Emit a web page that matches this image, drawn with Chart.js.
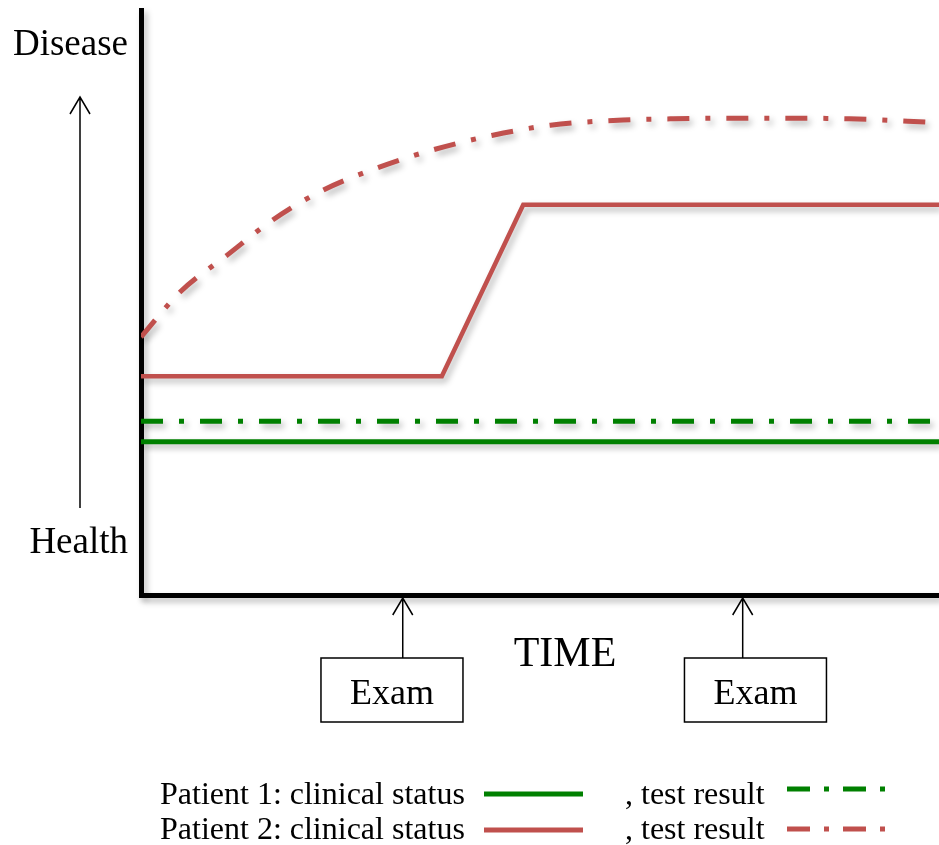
<!DOCTYPE html>
<html>
<head>
<meta charset="utf-8">
<script src="https://cdn.jsdelivr.net/npm/chart.js@4"></script>
<style>
  body { margin: 0; background: #fff; }
  #wrap { width: 939px; height: 845px; }
</style>
</head>
<body>
<div id="wrap"><canvas id="diseaseChart" width="939" height="845"></canvas></div>
<script>
// time runs 0..100 along the axis, status 0 (health) .. 100 (disease)
const p1StatusX = [0, 100];
const p1StatusY = [26.2, 26.2];
const p1TestX = [0, 100];
const p1TestY = [29.7, 29.7];
const p2StatusX = [0, 37.7, 47.9, 100];
const p2StatusY = [37.4, 37.4, 66.7, 66.7];
const p2TestX = [0, 4.9, 10.8, 16.5, 22.8, 29.6, 36.6, 44.1, 51.3, 60.4, 66.7, 74.2, 81.6, 88.8, 96.1, 100];
const p2TestY = [44.1, 51.8, 58.1, 64.1, 69.2, 73.0, 76.1, 78.6, 80.3, 81.2, 81.4, 81.5, 81.5, 81.4, 81.0, 80.7];
const examTimes = [32.8, 75.4];
const examBoxTimes = [31.45, 77.0];
const examLabel = 'Exam';
const axisLabels = { top: 'Disease', bottom: 'Health', x: 'TIME' };
const legendRows = ['Patient 1: clinical status', 'Patient 2: clinical status'];
const legendTest = ', test result';

const GREEN = '#008000';
const RED = '#C0504D';
const DASH_DOT = [22, 16, 5, 16];
const SERIF = '"Liberation Serif", "Times New Roman", serif';

function toPoints(xs, ys) {
    return xs.map((x, i) => ({ x: x, y: ys[i] }));
}

// Drop shadow under everything, like the original drawing
const shadowPlugin = {
    id: 'shadow',
    beforeDraw(chart) {
        const ctx = chart.ctx;
        ctx.save();
        ctx.shadowColor = 'rgba(0,0,0,0.28)';
        ctx.shadowBlur = 6;
        ctx.shadowOffsetX = 3;
        ctx.shadowOffsetY = 4;
    },
    afterDraw(chart) {
        chart.ctx.restore();
    }
};

function arrowUp(ctx, x, yTip, yEnd) {
    ctx.beginPath();
    ctx.moveTo(x, yEnd);
    ctx.lineTo(x, yTip);
    ctx.moveTo(x - 10, yTip + 17);
    ctx.lineTo(x, yTip);
    ctx.lineTo(x + 10, yTip + 17);
    ctx.stroke();
}

// Labels, exam boxes and the legend
const annotatePlugin = {
    id: 'annotate',
    afterDraw(chart) {
        const ctx = chart.ctx;
        const xs = chart.scales.x;
        const area = chart.chartArea;
        ctx.fillStyle = '#000';
        ctx.strokeStyle = '#000';
        ctx.lineWidth = 1.5;

        ctx.font = '37px ' + SERIF;
        ctx.textAlign = 'right';
        ctx.textBaseline = 'alphabetic';
        ctx.fillText(axisLabels.top, 128, 55);
        ctx.fillText(axisLabels.bottom, 128, 553);
        arrowUp(ctx, 80, 97, 508);

        ctx.font = '42px ' + SERIF;
        ctx.textAlign = 'center';
        ctx.fillText(axisLabels.x, 565, 666);

        examTimes.forEach((t, i) => {
            const px = xs.getPixelForValue(t);
            const bx = xs.getPixelForValue(examBoxTimes[i]);
            arrowUp(ctx, px, area.bottom + 3, 658);
            ctx.strokeRect(bx - 71, 658, 142, 64);
            ctx.font = '36px ' + SERIF;
            ctx.textAlign = 'center';
            ctx.fillText(examLabel, bx, 704);
        });

        // legend
        const sets = chart.data.datasets;
        legendRows.forEach((label, i) => {
            const base = 804 + i * 35;
            const ly = 794 + i * 36;
            ctx.font = '32px ' + SERIF;
            ctx.textAlign = 'left';
            ctx.fillStyle = '#000';
            ctx.fillText(label, 160, base);
            ctx.fillText(legendTest, 625, base);

            const solid = sets[i * 2];
            const test = sets[i * 2 + 1];
            ctx.save();
            ctx.lineCap = 'butt';
            ctx.lineWidth = 5;
            ctx.strokeStyle = solid.borderColor;
            ctx.beginPath();
            ctx.moveTo(484, ly);
            ctx.lineTo(583, ly);
            ctx.stroke();
            ctx.strokeStyle = test.borderColor;
            ctx.setLineDash([23, 14, 5, 14]);
            ctx.beginPath();
            ctx.moveTo(787, ly - (i === 0 ? 5 : 1));
            ctx.lineTo(887, ly - (i === 0 ? 5 : 1));
            ctx.stroke();
            ctx.restore();
        });
    }
};

const ctx = document.getElementById('diseaseChart').getContext('2d');

const diseaseChart = new Chart(ctx, {
    type: 'line',
    data: {
        datasets: [
            {
                label: 'Patient 1: clinical status',
                data: toPoints(p1StatusX, p1StatusY),
                borderColor: GREEN,
                borderWidth: 5,
                tension: 0
            },
            {
                label: 'Patient 1: test result',
                data: toPoints(p1TestX, p1TestY),
                borderColor: GREEN,
                borderWidth: 5,
                borderDash: DASH_DOT,
                tension: 0
            },
            {
                label: 'Patient 2: clinical status',
                data: toPoints(p2StatusX, p2StatusY),
                borderColor: RED,
                borderWidth: 4.5,
                tension: 0
            },
            {
                label: 'Patient 2: test result',
                data: toPoints(p2TestX, p2TestY),
                borderColor: RED,
                borderWidth: 5,
                borderDash: DASH_DOT,
                cubicInterpolationMode: 'monotone'
            }
        ]
    },
    options: {
        responsive: false,
        animation: false,
        layout: {
            padding: { left: 141, right: 0, top: 10, bottom: 250 }
        },
        elements: {
            point: { radius: 0 },
            line: { borderCapStyle: 'butt', borderJoinStyle: 'miter' }
        },
        plugins: {
            legend: { display: false },
            tooltip: { enabled: false }
        },
        scales: {
            x: {
                type: 'linear',
                min: 0,
                max: 100,
                grid: { display: false, drawTicks: false },
                ticks: { display: false },
                border: { display: true, color: '#000', width: 5 }
            },
            y: {
                type: 'linear',
                min: 0,
                max: 100,
                grid: { display: false, drawTicks: false },
                ticks: { display: false },
                border: { display: true, color: '#000', width: 5 }
            }
        }
    },
    plugins: [shadowPlugin, annotatePlugin]
});
</script>
</body>
</html>
